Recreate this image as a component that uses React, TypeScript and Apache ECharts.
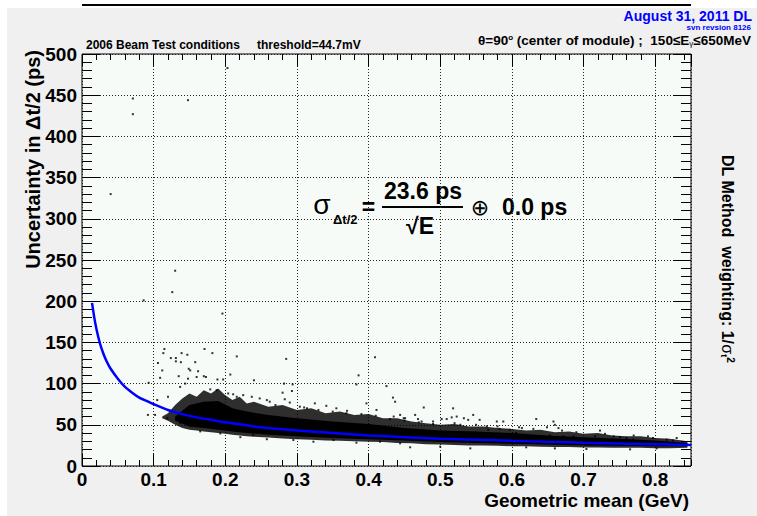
import React, { useEffect, useRef } from "react";
import * as echarts from "echarts";

const FONT = '"Liberation Sans", Arial, Helvetica, sans-serif';

// Tick labels
const xTickLabels = ["0", "0.1", "0.2", "0.3", "0.4", "0.5", "0.6", "0.7", "0.8"];
const yTickLabels = ["0", "50", "100", "150", "200", "250", "300", "350", "400", "450", "500"];

// Fitted curve sigma = 23.6 ps / sqrt(E)
const fitX = [0.014, 0.017, 0.02, 0.025, 0.03, 0.035, 0.04, 0.05, 0.06, 0.07, 0.08, 0.09, 0.1, 0.12, 0.14, 0.16, 0.18, 0.2, 0.25, 0.3, 0.35, 0.4, 0.45, 0.5, 0.55, 0.6, 0.65, 0.7, 0.75, 0.8, 0.85];
const fitY = [198, 181, 167, 149, 136, 126, 118, 106, 96, 89, 83, 79, 75, 68, 63, 59, 56, 53, 47, 43, 40, 37, 35, 33, 32, 30.5, 29.3, 28.2, 27.3, 26.4, 25.6];

// Outer (speckled) envelope of the dense event cloud
const haloX = [0.112, 0.12, 0.13, 0.14, 0.15, 0.16, 0.17, 0.18, 0.19, 0.2, 0.21, 0.22, 0.23, 0.24, 0.26, 0.28, 0.3, 0.32, 0.34, 0.36, 0.38, 0.4, 0.42, 0.44, 0.46, 0.48, 0.5, 0.52, 0.54, 0.56, 0.58, 0.6, 0.62, 0.64, 0.66, 0.68, 0.7, 0.72, 0.74, 0.76, 0.78, 0.8, 0.82, 0.845];
const haloHigh = [60, 64, 74, 82, 88, 84, 92, 88, 94, 86, 80, 84, 76, 78, 72, 74, 68, 70, 64, 66, 62, 63, 58, 58, 54, 52, 50, 51, 48, 48, 46, 45, 43, 44, 41, 42, 39, 40, 37, 36, 36, 34, 33, 30];
const haloLow = [58, 55, 50, 46, 44, 43, 42, 41, 40, 39, 38, 37, 36, 35.5, 34.5, 33.5, 32.5, 32, 31, 30.5, 30, 29.5, 29, 28, 27.5, 26.5, 26, 25.5, 25, 25, 24.5, 24, 24, 23.5, 23, 23, 22.5, 22.5, 22, 22, 22, 21.5, 21.5, 22];

// Solid core of the dense event cloud
const coreX = [0.13, 0.15, 0.17, 0.19, 0.21, 0.23, 0.26, 0.3, 0.35, 0.4, 0.45, 0.5, 0.55, 0.6, 0.65, 0.7, 0.75, 0.8, 0.845];
const coreHigh = [60, 74, 78, 79, 70, 66, 62, 58, 54, 51, 46, 43, 42, 40, 37, 35, 33, 31, 28];
const coreLow = [55, 48, 46, 44, 42, 40, 38, 36, 34, 32.5, 31, 29, 28, 27, 26, 25, 24.5, 24, 24];

// Individually visible events
const eventPoints: [number, number][] = [
  [0.071, 446], [0.071, 427], [0.148, 444], [0.203, 483], [0.04, 330], [0.13, 237], [0.126, 211], [0.086, 201], [0.196, 185],
  [0.1135, 137], [0.131, 131], [0.147, 135], [0.171, 142], [0.182, 137], [0.216, 133], [0.285, 130], [0.409, 132], [0.115, 142], [0.139, 137],
  [0.106, 125], [0.124, 131], [0.131, 127], [0.138, 126], [0.158, 126], [0.112, 116], [0.149, 118], [0.151, 116], [0.162, 115], [0.17, 109],
  [0.173, 108], [0.207, 111], [0.189, 105], [0.197, 105], [0.24, 104], [0.282, 100], [0.294, 99], [0.293, 91], [0.386, 110], [0.383, 99],
  [0.425, 97], [0.434, 83], [0.437, 78], [0.093, 101], [0.092, 62], [0.102, 62], [0.109, 107], [0.135, 109], [0.148, 106], [0.144, 100],
  [0.137, 96], [0.16, 108], [0.179, 93], [0.188, 92], [0.204, 88], [0.211, 87], [0.216, 84], [0.225, 86], [0.237, 84], [0.248, 82],
  [0.258, 80], [0.28, 89], [0.283, 81], [0.304, 72], [0.314, 70], [0.325, 76], [0.341, 73], [0.355, 70], [0.369, 64], [0.397, 76],
  [0.411, 68], [0.435, 60], [0.444, 62], [0.451, 58], [0.105, 80], [0.119, 58], [0.12, 84],
  [0.477, 71], [0.518, 70], [0.465, 62], [0.449, 58], [0.469, 57], [0.474, 54], [0.49, 54], [0.502, 57], [0.509, 57], [0.516, 59],
  [0.523, 60], [0.533, 58], [0.539, 56], [0.546, 62], [0.555, 56], [0.528, 50], [0.565, 48], [0.579, 54], [0.588, 54], [0.567, 44],
  [0.583, 45], [0.597, 44], [0.614, 46], [0.634, 57], [0.658, 54], [0.66, 50], [0.665, 46], [0.649, 47], [0.672, 36], [0.723, 43],
  [0.742, 36], [0.751, 35], [0.76, 34], [0.769, 32], [0.797, 34], [0.816, 32], [0.825, 31], [0.716, 36], [0.695, 34], [0.686, 36],
  [0.653, 37], [0.628, 36], [0.606, 40],
  [0.262, 78], [0.27, 74], [0.29, 77], [0.31, 71], [0.33, 68], [0.35, 66], [0.37, 67], [0.39, 63], [0.41, 61], [0.43, 57],
  [0.45, 55], [0.47, 53], [0.49, 51], [0.52, 52], [0.55, 50], [0.58, 48], [0.61, 47], [0.63, 45], [0.67, 43], [0.69, 41],
  [0.73, 39], [0.77, 37], [0.79, 36], [0.83, 34],
  [0.137, 52], [0.151, 48.5], [0.165, 42], [0.193, 39.5], [0.221, 35], [0.239, 37.5], [0.258, 32.5], [0.295, 31.5], [0.323, 29.5],
  [0.351, 31.5], [0.383, 28.3], [0.416, 29.5], [0.444, 27.5], [0.458, 22.7], [0.5, 23.5], [0.542, 21.4], [0.62, 22.7], [0.66, 21.4],
  [0.704, 20.6], [0.765, 20.2], [0.802, 21.4],
];

const bandSeries = (xs: number[], lo: number[], hi: number[], opacity: number) => ({
  type: "custom",
  coordinateSystem: "cartesian2d",
  xAxisIndex: 0,
  yAxisIndex: 0,
  silent: true,
  clip: true,
  data: [[xs[0], lo[0]]],
  renderItem: (_params: any, api: any) => {
    const pts: number[][] = [];
    for (let i = 0; i < xs.length; i++) pts.push(api.coord([xs[i], hi[i]]));
    for (let i = xs.length - 1; i >= 0; i--) pts.push(api.coord([xs[i], lo[i]]));
    return { type: "polygon", shape: { points: pts }, style: { fill: "#000", opacity } };
  },
});

const tickAxis = (pos: string, min: number, max: number, interval: number, len: number, extra: any = {}) => ({
  type: "value",
  position: pos,
  min,
  max,
  interval,
  axisLine: { show: false, onZero: false },
  axisTick: { show: true, inside: true, length: len, lineStyle: { color: "#000", width: 1 } },
  axisLabel: { show: false },
  splitLine: { show: false },
  ...extra,
});

export default function App() {
  const ref = useRef<HTMLDivElement>(null);
  useEffect(() => {
    if (!ref.current) return;
    const chart = echarts.init(ref.current, undefined, { renderer: "svg" });
    const labelStyle = { fontFamily: FONT, fontWeight: "bold", fontSize: 19, color: "#000" };
    const option: any = {
      animation: false,
      backgroundColor: "#f0f0f0",
      grid: {
        left: 82,
        top: 54,
        right: 66,
        bottom: 50,
        show: true,
        backgroundColor: "#f7fbf8",
        borderColor: "#000",
        borderWidth: 1,
      },
      xAxis: [
        tickAxis("bottom", 0, 0.85, 0.1, 12, {
          axisLabel: {
            show: true,
            margin: 4,
            showMaxLabel: false,
            ...labelStyle,
            formatter: (_v: number, i: number) => xTickLabels[i] ?? "",
          },
          splitLine: { show: true, lineStyle: { color: "#222", width: 1, type: [1, 2] } },
        }),
        tickAxis("bottom", 0, 0.85, 0.02, 6),
        tickAxis("top", 0, 0.85, 0.1, 12),
        tickAxis("top", 0, 0.85, 0.02, 6),
      ],
      yAxis: [
        tickAxis("left", 0, 500, 50, 18, {
          axisLabel: {
            show: true,
            margin: 5,
            ...labelStyle,
            formatter: (_v: number, i: number) => yTickLabels[i] ?? "",
          },
          splitLine: { show: true, lineStyle: { color: "#222", width: 1, type: [1, 2] } },
        }),
        tickAxis("left", 0, 500, 10, 10),
        tickAxis("right", 0, 500, 50, 18),
        tickAxis("right", 0, 500, 10, 10),
      ],
      series: [
        bandSeries(haloX, haloLow, haloHigh, 0.82),
        bandSeries(coreX, coreLow, coreHigh, 1),
        {
          type: "scatter",
          xAxisIndex: 0,
          yAxisIndex: 0,
          symbol: "rect",
          symbolSize: 2,
          itemStyle: { color: "#000" },
          silent: true,
          data: eventPoints,
        },
        {
          type: "line",
          xAxisIndex: 0,
          yAxisIndex: 0,
          showSymbol: false,
          smooth: 0.2,
          silent: true,
          lineStyle: { color: "#0000ff", width: 2.5 },
          data: fitX.map((x, i) => [x, fitY[i]]),
          z: 10,
        },
      ],
      graphic: [
        { type: "rect", shape: { x: 0, y: 0, width: 757, height: 8 }, style: { fill: "#fff" }, silent: true },
        { type: "rect", shape: { x: 0, y: 0, width: 7, height: 516 }, style: { fill: "#fff" }, silent: true },
        { type: "line", shape: { x1: 82, y1: 5, x2: 691, y2: 5 }, style: { stroke: "#000", lineWidth: 2 }, silent: true },
        {
          type: "text", x: 86, y: 45, silent: true,
          style: { text: "2006 Beam Test conditions", font: `bold 12px ${FONT}`, fill: "#000", verticalAlign: "middle" },
        },
        {
          type: "text", x: 257, y: 45, silent: true,
          style: { text: "threshold=44.7mV", font: `bold 12px ${FONT}`, fill: "#000", verticalAlign: "middle" },
        },
        {
          type: "text", x: 752, y: 16, silent: true,
          style: { text: "August 31, 2011 DL", font: `bold 14px ${FONT}`, fill: "#0000ff", align: "right", verticalAlign: "middle" },
        },
        {
          type: "text", x: 751, y: 27, silent: true,
          style: { text: "svn revsion 8126", font: `bold 8px ${FONT}`, fill: "#0000ff", align: "right", verticalAlign: "middle" },
        },
        {
          type: "text", x: 751, y: 40, silent: true,
          style: {
            text: "θ=90{sup|o} (center of module) ;  150≤E{sub|γ}≤650MeV",
            font: `bold 13.5px ${FONT}`, fill: "#000", align: "right", verticalAlign: "middle",
            rich: {
              sup: { font: `bold 8px ${FONT}`, fill: "#000", verticalAlign: "top", lineHeight: 8 },
              sub: { font: `8px ${FONT}`, fill: "#000", verticalAlign: "bottom", lineHeight: 8 },
            },
          },
        },
        {
          type: "text", x: 33, y: 50, rotation: Math.PI / 2, silent: true,
          style: { text: "Uncertainty in Δt/2 (ps)", font: `bold 20px ${FONT}`, fill: "#000", align: "right", verticalAlign: "middle" },
        },
        {
          type: "text", x: 689, y: 500, silent: true,
          style: { text: "Geometric mean (GeV)", font: `bold 19px ${FONT}`, fill: "#000", align: "right", verticalAlign: "middle" },
        },
        {
          type: "text", x: 727, y: 155, rotation: -Math.PI / 2, silent: true,
          style: {
            text: "DL Method  weighting: 1/{s|σ}{sub|t}{sup|2}",
            font: `bold 16px ${FONT}`, fill: "#000", align: "left", verticalAlign: "middle",
            rich: {
              s: { font: `16px ${FONT}`, fill: "#000" },
              sub: { font: `bold 9px ${FONT}`, fill: "#000", verticalAlign: "bottom", lineHeight: 9 },
              sup: { font: `bold 10px ${FONT}`, fill: "#000", verticalAlign: "top", lineHeight: 10 },
            },
          },
        },
        // formula
        {
          type: "text", x: 322, y: 204, silent: true,
          style: { text: "σ", font: `28px ${FONT}`, fill: "#000", align: "center", verticalAlign: "middle" },
        },
        {
          type: "text", x: 333, y: 219.5, silent: true,
          style: { text: "Δt/2", font: `bold 13px ${FONT}`, fill: "#000", align: "left", verticalAlign: "middle" },
        },
        {
          type: "text", x: 368.5, y: 207, silent: true,
          style: { text: "=", font: `bold 23px ${FONT}`, fill: "#000", align: "center", verticalAlign: "middle" },
        },
        {
          type: "text", x: 423, y: 191, silent: true,
          style: { text: "23.6 ps", font: `bold 23px ${FONT}`, fill: "#000", align: "center", verticalAlign: "middle" },
        },
        { type: "line", shape: { x1: 382, y1: 207, x2: 463, y2: 207 }, style: { stroke: "#000", lineWidth: 2 }, silent: true },
        {
          type: "text", x: 420, y: 226, silent: true,
          style: { text: "√E", font: `bold 23px ${FONT}`, fill: "#000", align: "center", verticalAlign: "middle" },
        },
        {
          type: "text", x: 480, y: 207, silent: true,
          style: { text: "⊕", font: `22px "DejaVu Sans", ${FONT}`, fill: "#000", align: "center", verticalAlign: "middle" },
        },
        {
          type: "text", x: 502, y: 207, silent: true,
          style: { text: "0.0 ps", font: `bold 23px ${FONT}`, fill: "#000", align: "left", verticalAlign: "middle" },
        },
      ],
    };
    chart.setOption(option);
    return () => chart.dispose();
  }, []);
  return (
    <div
      ref={ref}
      style={{ position: "absolute", left: 0, top: 0, width: 757, height: 516 }}
    />
  );
}
